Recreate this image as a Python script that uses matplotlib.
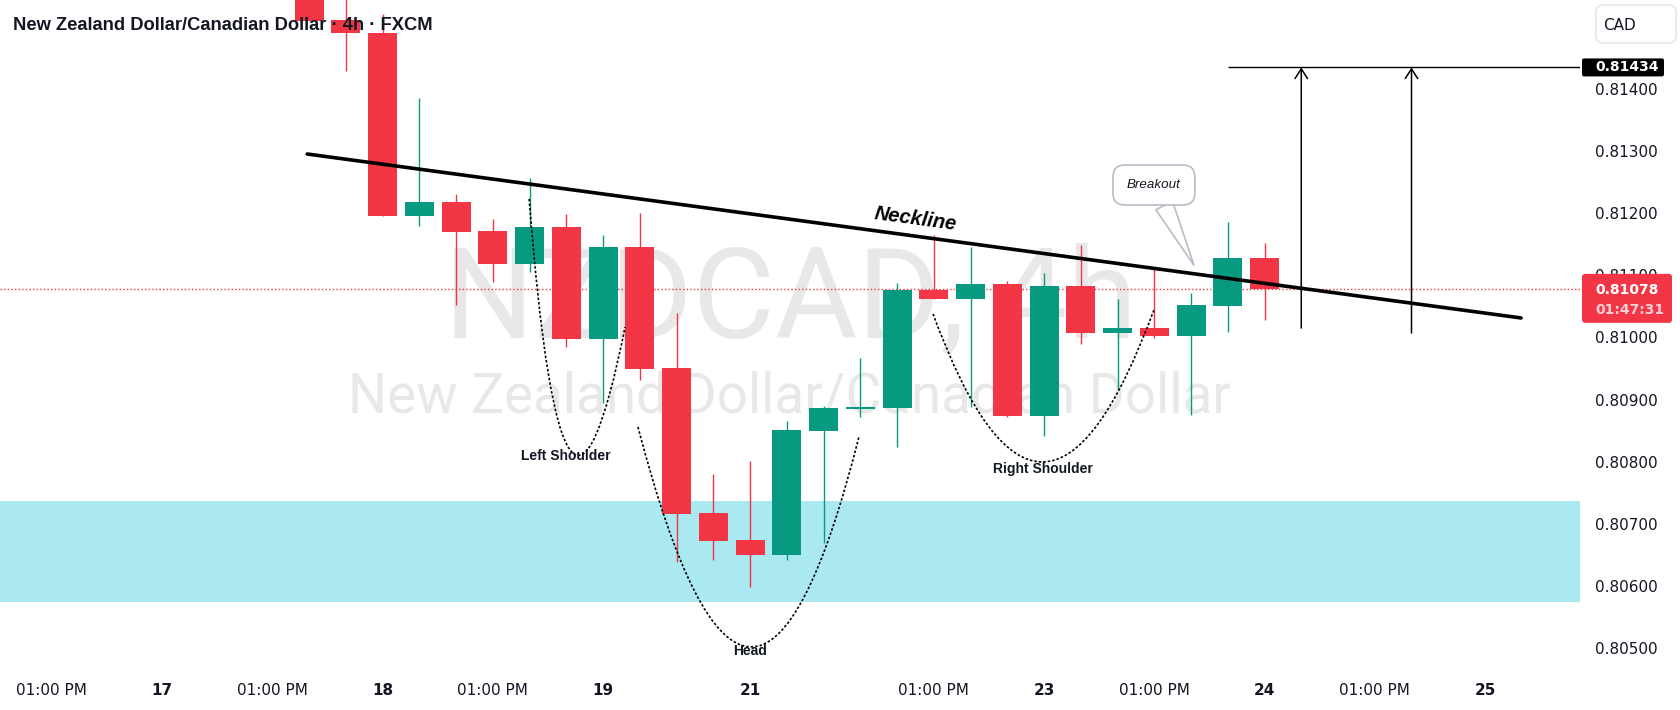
import numpy as np
import matplotlib
matplotlib.use("Agg")
import matplotlib.pyplot as plt
from matplotlib.patches import FancyBboxPatch, PathPatch
from matplotlib.path import Path
from matplotlib.transforms import IdentityTransform

# candle index 0 = 18th 01:00, one step = 4h
idx = np.arange(-2, 25)
opens = np.array([0.81570, 0.81510, 0.81489, 0.81195, 0.81218, 0.81171, 0.81118, 0.81178, 0.80997,
                  0.81145, 0.80951, 0.80718, 0.80674, 0.80650, 0.80850, 0.80885, 0.80887, 0.81076,
                  0.81062, 0.81086, 0.80874, 0.81083, 0.81007, 0.81015, 0.81002, 0.81050, 0.81128])
highs = np.array([0.81600, 0.81580, 0.81520, 0.81385, 0.81231, 0.81190, 0.81256, 0.81198, 0.81165,
                  0.81200, 0.81039, 0.80780, 0.80801, 0.80866, 0.80890, 0.80967, 0.81087, 0.81165,
                  0.81145, 0.81091, 0.81104, 0.81149, 0.81062, 0.81112, 0.81071, 0.81185, 0.81152])
lows = np.array([0.81509, 0.81428, 0.81195, 0.81179, 0.81052, 0.81089, 0.81105, 0.80985, 0.80894,
                 0.80932, 0.80639, 0.80642, 0.80599, 0.80642, 0.80669, 0.80872, 0.80824, 0.81062,
                 0.80888, 0.80872, 0.80842, 0.80989, 0.80917, 0.80999, 0.80875, 0.81009, 0.81028])
closes = np.array([0.81509, 0.81489, 0.81195, 0.81218, 0.81169, 0.81118, 0.81178, 0.80997, 0.81145,
                   0.80949, 0.80716, 0.80673, 0.80650, 0.80851, 0.80886, 0.80888, 0.81076, 0.81062,
                   0.81086, 0.80874, 0.81083, 0.81007, 0.81015, 0.81002, 0.81052, 0.81128, 0.81078])

tick_pos = [-9, -6, -3, 0, 3, 6, 10, 15, 18, 21, 24, 27, 30]
tick_labels = ["01:00 PM", "17", "01:00 PM", "18", "01:00 PM", "19", "21",
               "01:00 PM", "23", "01:00 PM", "24", "01:00 PM", "25"]
price_ticks = [0.805, 0.806, 0.807, 0.808, 0.809, 0.810, 0.811, 0.812, 0.813, 0.814]

# drawings
neckline = [(-2.05, 0.812948), (30.98, 0.810312)]
zone = (0.80575, 0.80737)
target_price = 0.81434
target_start = 23
arrow_x = [25, 28]
arrow_base = [0.81015, 0.81007]
left_shoulder = [(3.99, 0.812225), (4.91, 0.805183), (6.60, 0.810167)]
head = [(6.95, 0.808559), (10.04, 0.801558), (12.97, 0.808414)]
right_shoulder = [(14.98, 0.810376), (17.96, 0.805585), (20.99, 0.81044)]
pattern_labels = [("Left Shoulder", 4.99, 0.808093), ("Head", 10.0, 0.804958),
                  ("Right Shoulder", 17.97, 0.807884)]
breakout_text = (20.99, 0.81245)
breakout_tip = (22.08, 0.81116)
countdown = "01:47:31"

GREEN = "#089981"
RED = "#f23645"
TXT = "#131722"
W, H = 1680, 710

fig = plt.figure(figsize=(16.8, 7.1), dpi=100, facecolor="white")
ax = fig.add_axes([0, 38 / H, 1580 / W, 672 / H])
ax.set_xlim(-10.41, 32.585)
ax.set_ylim(0.80462, 0.815424)

# watermark
ax.text(0.5, 0.4985, "NZDCAD, 4h", transform=ax.transAxes, ha="center", va="baseline",
        fontsize=91, family="Roboto", color="#e8e8e8", zorder=0)
ax.text(0.5, 0.3854, "New Zealand Dollar/Canadian Dollar", transform=ax.transAxes, ha="center",
        va="baseline", fontsize=39.5, family="Roboto", color="#e8e8e8", zorder=0)

ax.axhspan(zone[0], zone[1], color="#a7e8f0", alpha=0.95, lw=0, zorder=1)
ax.axhline(closes[-1], color=RED, lw=1, ls=(0, (1, 1.6)), zorder=1.5)

# candles
colors = np.where(closes >= opens, GREEN, RED)
ax.vlines(idx, lows, highs, colors=colors, lw=1.0, zorder=3)
body_lo = np.minimum(opens, closes)
body_h = np.maximum(np.abs(closes - opens), 0.00002)
ax.bar(idx, body_h, bottom=body_lo, width=0.79, color=colors, lw=0, zorder=4)

# neckline
nx, ny = zip(*neckline)
ax.plot(nx, ny, color="black", lw=2.6, solid_capstyle="round", zorder=6)
p0 = ax.transData.transform(neckline[0])
p1 = ax.transData.transform(neckline[1])
ang = np.degrees(np.arctan2(p1[1] - p0[1], p1[0] - p0[0]))
ax.text(14.49, 0.811903, "Neckline", rotation=ang, rotation_mode="anchor", ha="center",
        va="center", fontsize=14.5, fontweight="bold", style="italic", family="Liberation Sans",
        color="black", zorder=7)

# head and shoulders arcs
for pts in [left_shoulder, head, right_shoulder]:
    path = Path(pts, [Path.MOVETO, Path.CURVE3, Path.CURVE3])
    ax.add_patch(PathPatch(path, fill=False, ec="black", lw=1.2, ls=(0, (1.5, 1.2)), zorder=5))
for name, x, y in pattern_labels:
    ax.text(x, y, name, ha="center", va="center", fontsize=10, fontweight="bold",
            family="Liberation Sans", color=TXT, zorder=7)

# target
ax.hlines(target_price, target_start, ax.get_xlim()[1], color="black", lw=1.0, zorder=6)
for x, b in zip(arrow_x, arrow_base):
    ax.annotate("", xy=(x, target_price), xytext=(x, b),
                arrowprops=dict(arrowstyle="->,head_length=0.7,head_width=0.45", color="black",
                                lw=1.1, shrinkA=0, shrinkB=0), zorder=6)

ax.annotate("Breakout", xy=breakout_tip, xytext=breakout_text, ha="center", va="center",
            fontsize=9.6, style="italic", family="Liberation Sans", color=TXT,
            bbox=dict(boxstyle="round,pad=1.05,rounding_size=0.9", fc="white", ec="#b8bcc6", lw=1.2),
            arrowprops=dict(arrowstyle="wedge,tail_width=1.4,shrink_factor=0.5", fc="white",
                            ec="#b8bcc6", lw=1.2, shrinkA=0, shrinkB=0), zorder=8)

# axes
for s in ax.spines.values():
    s.set_visible(False)
ax.set_xticks(tick_pos, tick_labels)
for lbl in ax.get_xticklabels():
    if "PM" not in lbl.get_text():
        lbl.set_fontweight("bold")
ax.tick_params(axis="x", length=0, pad=8, labelsize=11, labelcolor=TXT)
ax.yaxis.tick_right()
ax.set_yticks(price_ticks, [f"{v:.5f}" for v in price_ticks])
ax.tick_params(axis="y", length=0, pad=10.8, labelsize=11, labelcolor=TXT)

# overlays in pixel coordinates
idt = IdentityTransform()
fig.text(13, H - 25, "New Zealand Dollar/Canadian Dollar · 4h · FXCM", transform=idt,
         ha="left", va="center", fontsize=13.2, fontweight="bold", family="Liberation Sans",
         color=TXT, zorder=10)

fig.add_artist(FancyBboxPatch((1596, H - 43), 80, 38, boxstyle="round,pad=0,rounding_size=7",
                              transform=idt, fc="white", ec="#e0e3eb", lw=1))
fig.text(1603, H - 25, "CAD", transform=idt, ha="left", va="center", fontsize=11, color=TXT)

yt = ax.transData.transform((0, target_price))[1]
fig.add_artist(FancyBboxPatch((1582, yt - 9), 82, 18, boxstyle="round,pad=0,rounding_size=2",
                              transform=idt, fc="black", ec="none"))
fig.text(1595, yt, f"{target_price:.5f}", transform=idt, ha="left", va="center",
         fontsize=10, fontweight="bold", color="white")

yc = ax.transData.transform((0, closes[-1]))[1]
fig.add_artist(FancyBboxPatch((1582, yc - 34), 90, 49, boxstyle="round,pad=0,rounding_size=3",
                              transform=idt, fc=RED, ec="none"))
fig.text(1595, yc - 1, f"{closes[-1]:.5f}", transform=idt, ha="left", va="center",
         fontsize=10, fontweight="bold", color="white")
fig.text(1595, yc - 21, countdown, transform=idt, ha="left", va="center",
         fontsize=10, fontweight="bold", color="#fbd0d4")

fig.savefig("out.png", dpi=100, facecolor="white")
